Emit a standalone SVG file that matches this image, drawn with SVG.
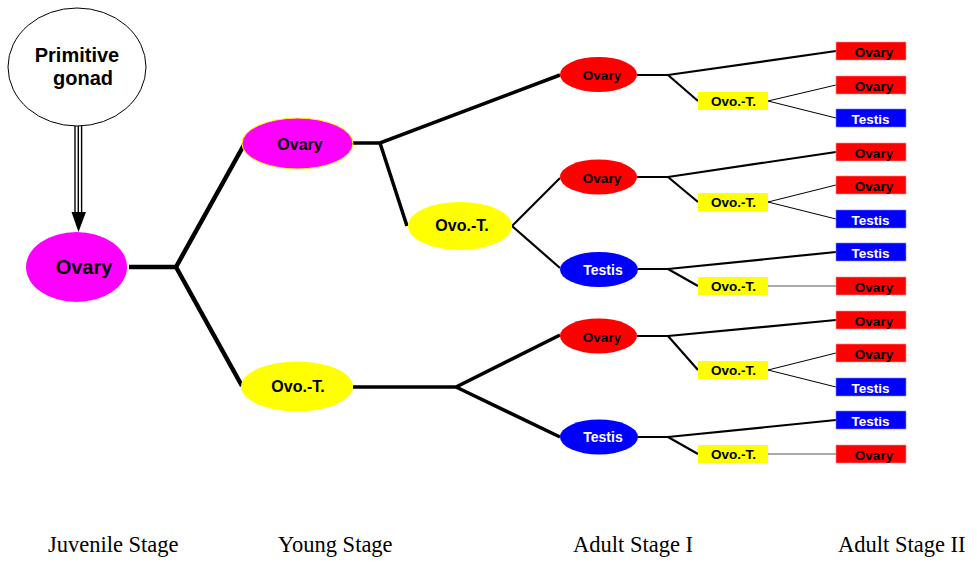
<svg xmlns="http://www.w3.org/2000/svg" width="977" height="562" viewBox="0 0 977 562">
<style>
.b{font-family:"Liberation Sans",Arial,sans-serif;font-weight:bold;text-anchor:middle}
.stage{font-family:"Liberation Serif","Times New Roman",serif;font-size:22.5px;fill:#000}
.red{fill:#ff0000;stroke:#ff9090;stroke-width:0.6}
.blue{fill:#0000ff;stroke:#8080ff;stroke-width:0.6}
.yel{fill:#ffff00}
.t2{font-size:13.5px}
.dk{fill:#000}
.wt{fill:#fff}
.c4{stroke:#000;stroke-width:4.5;fill:none}
.c3{stroke:#000;stroke-width:3.5;fill:none}
.c2{stroke:#000;stroke-width:2.2;fill:none}
.c1{stroke:#000;stroke-width:1;fill:none}
</style>
<rect width="977" height="562" fill="#fff"/>
<g id="connectors">
  <g id="arrow">
    <line x1="75" y1="126" x2="75" y2="213" stroke="#000" stroke-width="1.4"/>
    <line x1="78.3" y1="126" x2="78.3" y2="213" stroke="#000" stroke-width="1.4"/>
    <line x1="81.6" y1="126" x2="81.6" y2="213" stroke="#000" stroke-width="1.4"/>
    <polygon points="71.5,212 86,212 78.5,232" fill="#000"/>
  </g>
  <polyline class="c4" points="129,267 176,267 245,143"/>
  <polyline class="c4" points="176,267 242,386"/>
  <polyline class="c3" points="353,143 380,143 560,75"/>
  <polyline class="c3" points="380,143 407,226"/>
  <polyline class="c2" points="512,226 560,178"/>
  <polyline class="c2" points="512,226 560,268"/>
  <polyline class="c3" points="353,387 456,387 560,335"/>
  <polyline class="c3" points="456,387 560,437"/>
  <!-- adult I to II -->
  <polyline class="c2" points="637,75 668,75 836,51"/>
  <polyline class="c2" points="668,75 698,101"/>
  <polyline class="c1" points="836,85 768,101 836,118"/>
  <polyline class="c2" points="637,177 668,177 836,152"/>
  <polyline class="c2" points="668,177 698,202"/>
  <polyline class="c1" points="836,185 768,202 836,219"/>
  <polyline class="c2" points="638,269 668,269 836,252"/>
  <polyline class="c2" points="668,269 698,286"/>
  <line x1="768" y1="286" x2="836" y2="286" stroke="#555" stroke-width="1.2"/>
  <polyline class="c2" points="637,336 668,336 836,320"/>
  <polyline class="c2" points="668,336 698,370"/>
  <polyline class="c1" points="836,353 768,370 836,387"/>
  <polyline class="c2" points="638,437 668,437 836,420"/>
  <polyline class="c2" points="668,437 698,454"/>
  <line x1="768" y1="454" x2="836" y2="454" stroke="#555" stroke-width="1.2"/>
</g>
<g id="primitive">
  <ellipse cx="77" cy="67" rx="69" ry="59" fill="#fff" stroke="#000" stroke-width="1"/>
  <text class="b dk" x="77" y="62" font-size="20">Primitive</text>
  <text class="b dk" x="83" y="85" font-size="20">gonad</text>
</g>
<g id="juv-ovary">
  <ellipse cx="76.5" cy="267" rx="50.5" ry="35" fill="#ff00ff"/>
  <text class="b dk" x="84" y="274" font-size="20">Ovary</text>
</g>
<g id="young-ovary">
  <ellipse cx="297.5" cy="143.5" rx="55.5" ry="25.5" fill="#ff00ff" stroke="#ffff00" stroke-width="1"/>
  <text class="b dk" x="300" y="150" font-size="16">Ovary</text>
</g>
<g id="young-ovot1">
  <ellipse cx="460" cy="226" rx="52" ry="24" fill="#ffff00"/>
  <text class="b dk" x="462" y="231" font-size="16">Ovo.-T.</text>
</g>
<g id="young-ovot2">
  <ellipse cx="297" cy="386.5" rx="56" ry="25" fill="#ffff00"/>
  <text class="b dk" x="298" y="392" font-size="16">Ovo.-T.</text>
</g>
<g id="a1-ovary1">
  <ellipse cx="598.5" cy="74.5" rx="38.5" ry="17.5" fill="#ff0000"/>
  <text class="b dk" x="602" y="80" font-size="13.5">Ovary</text>
</g>
<g id="a1-ovary2">
  <ellipse cx="598.5" cy="177" rx="38.5" ry="17.5" fill="#ff0000"/>
  <text class="b dk" x="602" y="182.5" font-size="13.5">Ovary</text>
</g>
<g id="a1-testis1">
  <ellipse cx="599" cy="269.5" rx="39" ry="17.5" fill="#0000ff"/>
  <text class="b wt" x="603" y="274.5" font-size="14">Testis</text>
</g>
<g id="a1-ovary3">
  <ellipse cx="598.5" cy="336" rx="38.5" ry="17.5" fill="#ff0000"/>
  <text class="b dk" x="602" y="341.5" font-size="13.5">Ovary</text>
</g>
<g id="a1-testis2">
  <ellipse cx="599" cy="437" rx="39" ry="17.5" fill="#0000ff"/>
  <text class="b wt" x="603" y="442" font-size="14">Testis</text>
</g>
<g id="a1-ovot1"><rect class="yel" x="698" y="92" width="70" height="18"/><text class="b dk t2" x="733.5" y="106">Ovo.-T.</text></g>
<g id="a1-ovot2"><rect class="yel" x="698" y="193" width="70" height="18"/><text class="b dk t2" x="733.5" y="207">Ovo.-T.</text></g>
<g id="a1-ovot3"><rect class="yel" x="698" y="277" width="70" height="18"/><text class="b dk t2" x="733.5" y="291">Ovo.-T.</text></g>
<g id="a1-ovot4"><rect class="yel" x="698" y="361" width="70" height="18"/><text class="b dk t2" x="733.5" y="375">Ovo.-T.</text></g>
<g id="a1-ovot5"><rect class="yel" x="698" y="445" width="70" height="18"/><text class="b dk t2" x="733.5" y="459">Ovo.-T.</text></g>
<g id="a2-1"><rect class="red" x="836" y="42" width="70" height="18"/><text class="b dk t2" x="874" y="56.5">Ovary</text></g>
<g id="a2-2"><rect class="red" x="836" y="76" width="70" height="18"/><text class="b dk t2" x="874" y="90.5">Ovary</text></g>
<g id="a2-3"><rect class="blue" x="836" y="109" width="70" height="18"/><text class="b wt t2" x="870.5" y="123.5">Testis</text></g>
<g id="a2-4"><rect class="red" x="836" y="143" width="70" height="18"/><text class="b dk t2" x="874" y="157.5">Ovary</text></g>
<g id="a2-5"><rect class="red" x="836" y="176" width="70" height="18"/><text class="b dk t2" x="874" y="190.5">Ovary</text></g>
<g id="a2-6"><rect class="blue" x="836" y="210" width="70" height="18"/><text class="b wt t2" x="870.5" y="224.5">Testis</text></g>
<g id="a2-7"><rect class="blue" x="836" y="243" width="70" height="18"/><text class="b wt t2" x="870.5" y="257.5">Testis</text></g>
<g id="a2-8"><rect class="red" x="836" y="277" width="70" height="18"/><text class="b dk t2" x="874" y="291.5">Ovary</text></g>
<g id="a2-9"><rect class="red" x="836" y="311" width="70" height="18"/><text class="b dk t2" x="874" y="325.5">Ovary</text></g>
<g id="a2-10"><rect class="red" x="836" y="344" width="70" height="18"/><text class="b dk t2" x="874" y="358.5">Ovary</text></g>
<g id="a2-11"><rect class="blue" x="836" y="378" width="70" height="18"/><text class="b wt t2" x="870.5" y="392.5">Testis</text></g>
<g id="a2-12"><rect class="blue" x="836" y="411" width="70" height="18"/><text class="b wt t2" x="870.5" y="425.5">Testis</text></g>
<g id="a2-13"><rect class="red" x="836" y="445" width="70" height="18"/><text class="b dk t2" x="874" y="459.5">Ovary</text></g>
<g id="stages">
  <text class="stage" x="48" y="552">Juvenile Stage</text>
  <text class="stage" x="278" y="552">Young Stage</text>
  <text class="stage" x="573" y="552">Adult Stage I</text>
  <text class="stage" x="838" y="552">Adult Stage II</text>
</g>
</svg>
